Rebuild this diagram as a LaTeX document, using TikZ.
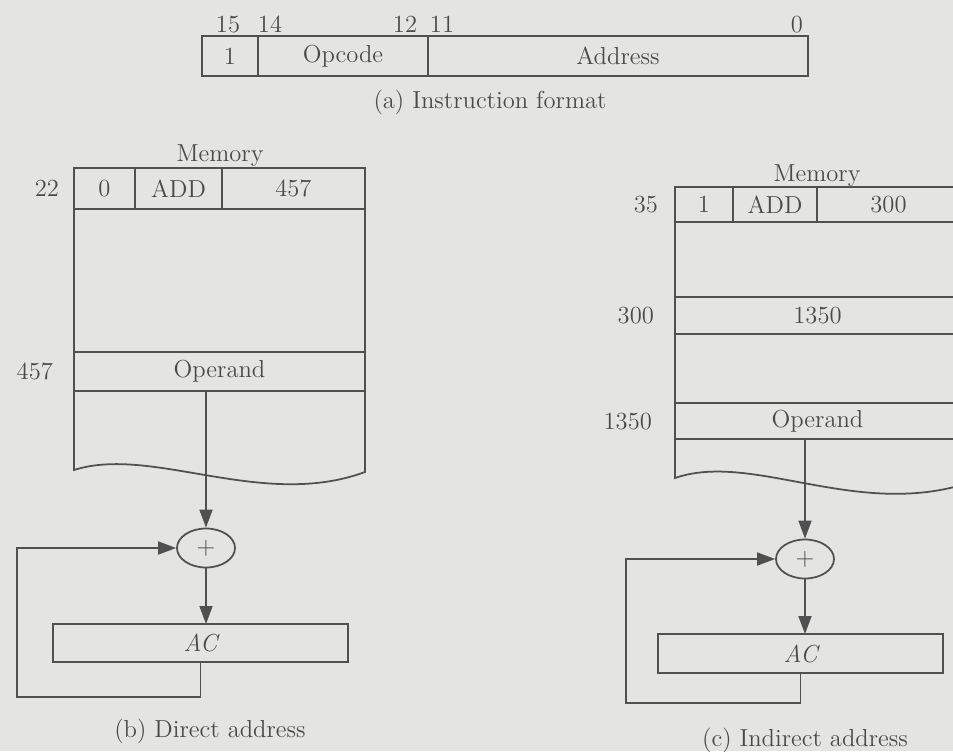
\documentclass[tikz,border=0pt]{standalone}
\usetikzlibrary{shapes.geometric, arrows.meta, positioning, calc}
\definecolor{paper}{HTML}{E4E4E2}
\definecolor{ink}{HTML}{505050}
\definecolor{inktext}{HTML}{4A4A4A}
\tikzset{
  % campo di una parola (istruzione o memoria)
  field/.style={draw=ink, line width=1pt, inner sep=0pt, outer sep=0pt, align=center},
  % linee e frecce
  wire/.style={draw=ink, line width=1pt},
  flow/.style={wire, -{Triangle[length=3.6mm, width=2.6mm]}},
  % sommatore
  adder/.style={ellipse, draw=ink, line width=1pt, minimum width=1.16cm,
    minimum height=0.78cm, inner sep=0pt},
  % etichette
  lbl/.style={inner sep=1pt},
  addr/.style={lbl, anchor=east},
  bitno/.style={lbl, anchor=south},
}

\begin{document}
\begin{tikzpicture}[x=0.02cm, y=-0.02cm,
  every node/.style={font=\fontsize{14}{16}\selectfont, text=inktext}]
  \fill[paper] (0,0) rectangle (953,751);
  \clip (0,0) rectangle (953,751);
  % (a) formato dell'istruzione
  \node[field, minimum width=1.12cm, minimum height=0.8cm] (ibit) at (230,56) {1};
  \node[field, minimum width=3.4cm, minimum height=0.8cm, right=0pt of ibit] (iop) {Opcode};
  \node[field, minimum width=7.6cm, minimum height=0.8cm, right=0pt of iop] (iad) {Address};
  \foreach \b/\x in {15/228, 14/270, 12/405, 11/442, 0/797}
    \node[bitno] at (\x,35) {\b};
  \node[lbl] (capa) at (490,102) {(a) Instruction format};

  % (b) indirizzo diretto
  \node[lbl] (mema) at (220,156) {Memory};
  \node[field, minimum width=1.22cm, minimum height=0.82cm] (wa1) at (104.5,188.5) {0};
  \node[field, minimum width=1.74cm, minimum height=0.82cm, right=0pt of wa1] (wa2) {ADD};
  \node[field, minimum width=2.86cm, minimum height=0.82cm, right=0pt of wa2] (wa3) {457};
  \draw[wire] (wa1.south west) -- (74,470)
    .. controls (152,445) and (262,510) .. (365,472) -- (wa3.south east);
  \node[field, minimum width=5.82cm, minimum height=0.78cm] (opa) at (219.5,371.5) {Operand};
  \node[addr] at (61,188) {22};
  \node[addr] at (55,371) {457};
  \node[adder] (suma) at (206,548) {+};
  \node[field, minimum width=5.9cm, minimum height=0.76cm] (aca) at (200.5,643) {\itshape AC};
  \coordinate (loopa) at (17,697);
  \draw[flow] (suma |- opa.south) -- (suma.north);
  \draw[flow] (suma.south) -- (suma |- aca.north);
  \draw[flow] (aca.south) |- (loopa) |- (suma.west);
  \node[lbl] (capb) at (210,731) {(b) Direct address};

  % (c) indirizzo indiretto
  \node[lbl] (memc) at (817,176) {Memory};
  \node[field, minimum width=1.16cm, minimum height=0.7cm] (wc1) at (704,204.5) {1};
  \node[field, minimum width=1.68cm, minimum height=0.7cm, right=0pt of wc1] (wc2) {ADD};
  \node[field, minimum width=2.86cm, minimum height=0.7cm, right=0pt of wc2] (wc3) {300};
  \draw[wire] (wc1.south west) -- (675,478)
    .. controls (750,452) and (850,515) .. (958,486) -- (wc3.south east);
  \node[field, minimum width=5.7cm, minimum height=0.74cm] (ptc) at (817.5,315.5) {1350};
  \node[field, minimum width=5.7cm, minimum height=0.72cm] (opc) at (817.5,421) {Operand};
  \node[addr] at (660,205) {35};
  \node[addr] at (656,316) {300};
  \node[addr] at (654,422) {1350};
  \node[adder] (sumc) at (805,559) {+};
  \node[field, minimum width=5.7cm, minimum height=0.78cm] (acc) at (800.5,653.5) {\itshape AC};
  \coordinate (loopc) at (626,703);
  \draw[flow] (sumc |- opc.south) -- (sumc.north);
  \draw[flow] (sumc.south) -- (sumc |- acc.north);
  \draw[flow] (acc.south) |- (loopc) |- (sumc.west);
  \node[lbl] (capc) at (805,740) {(c) Indirect address};
\end{tikzpicture}
\end{document}
